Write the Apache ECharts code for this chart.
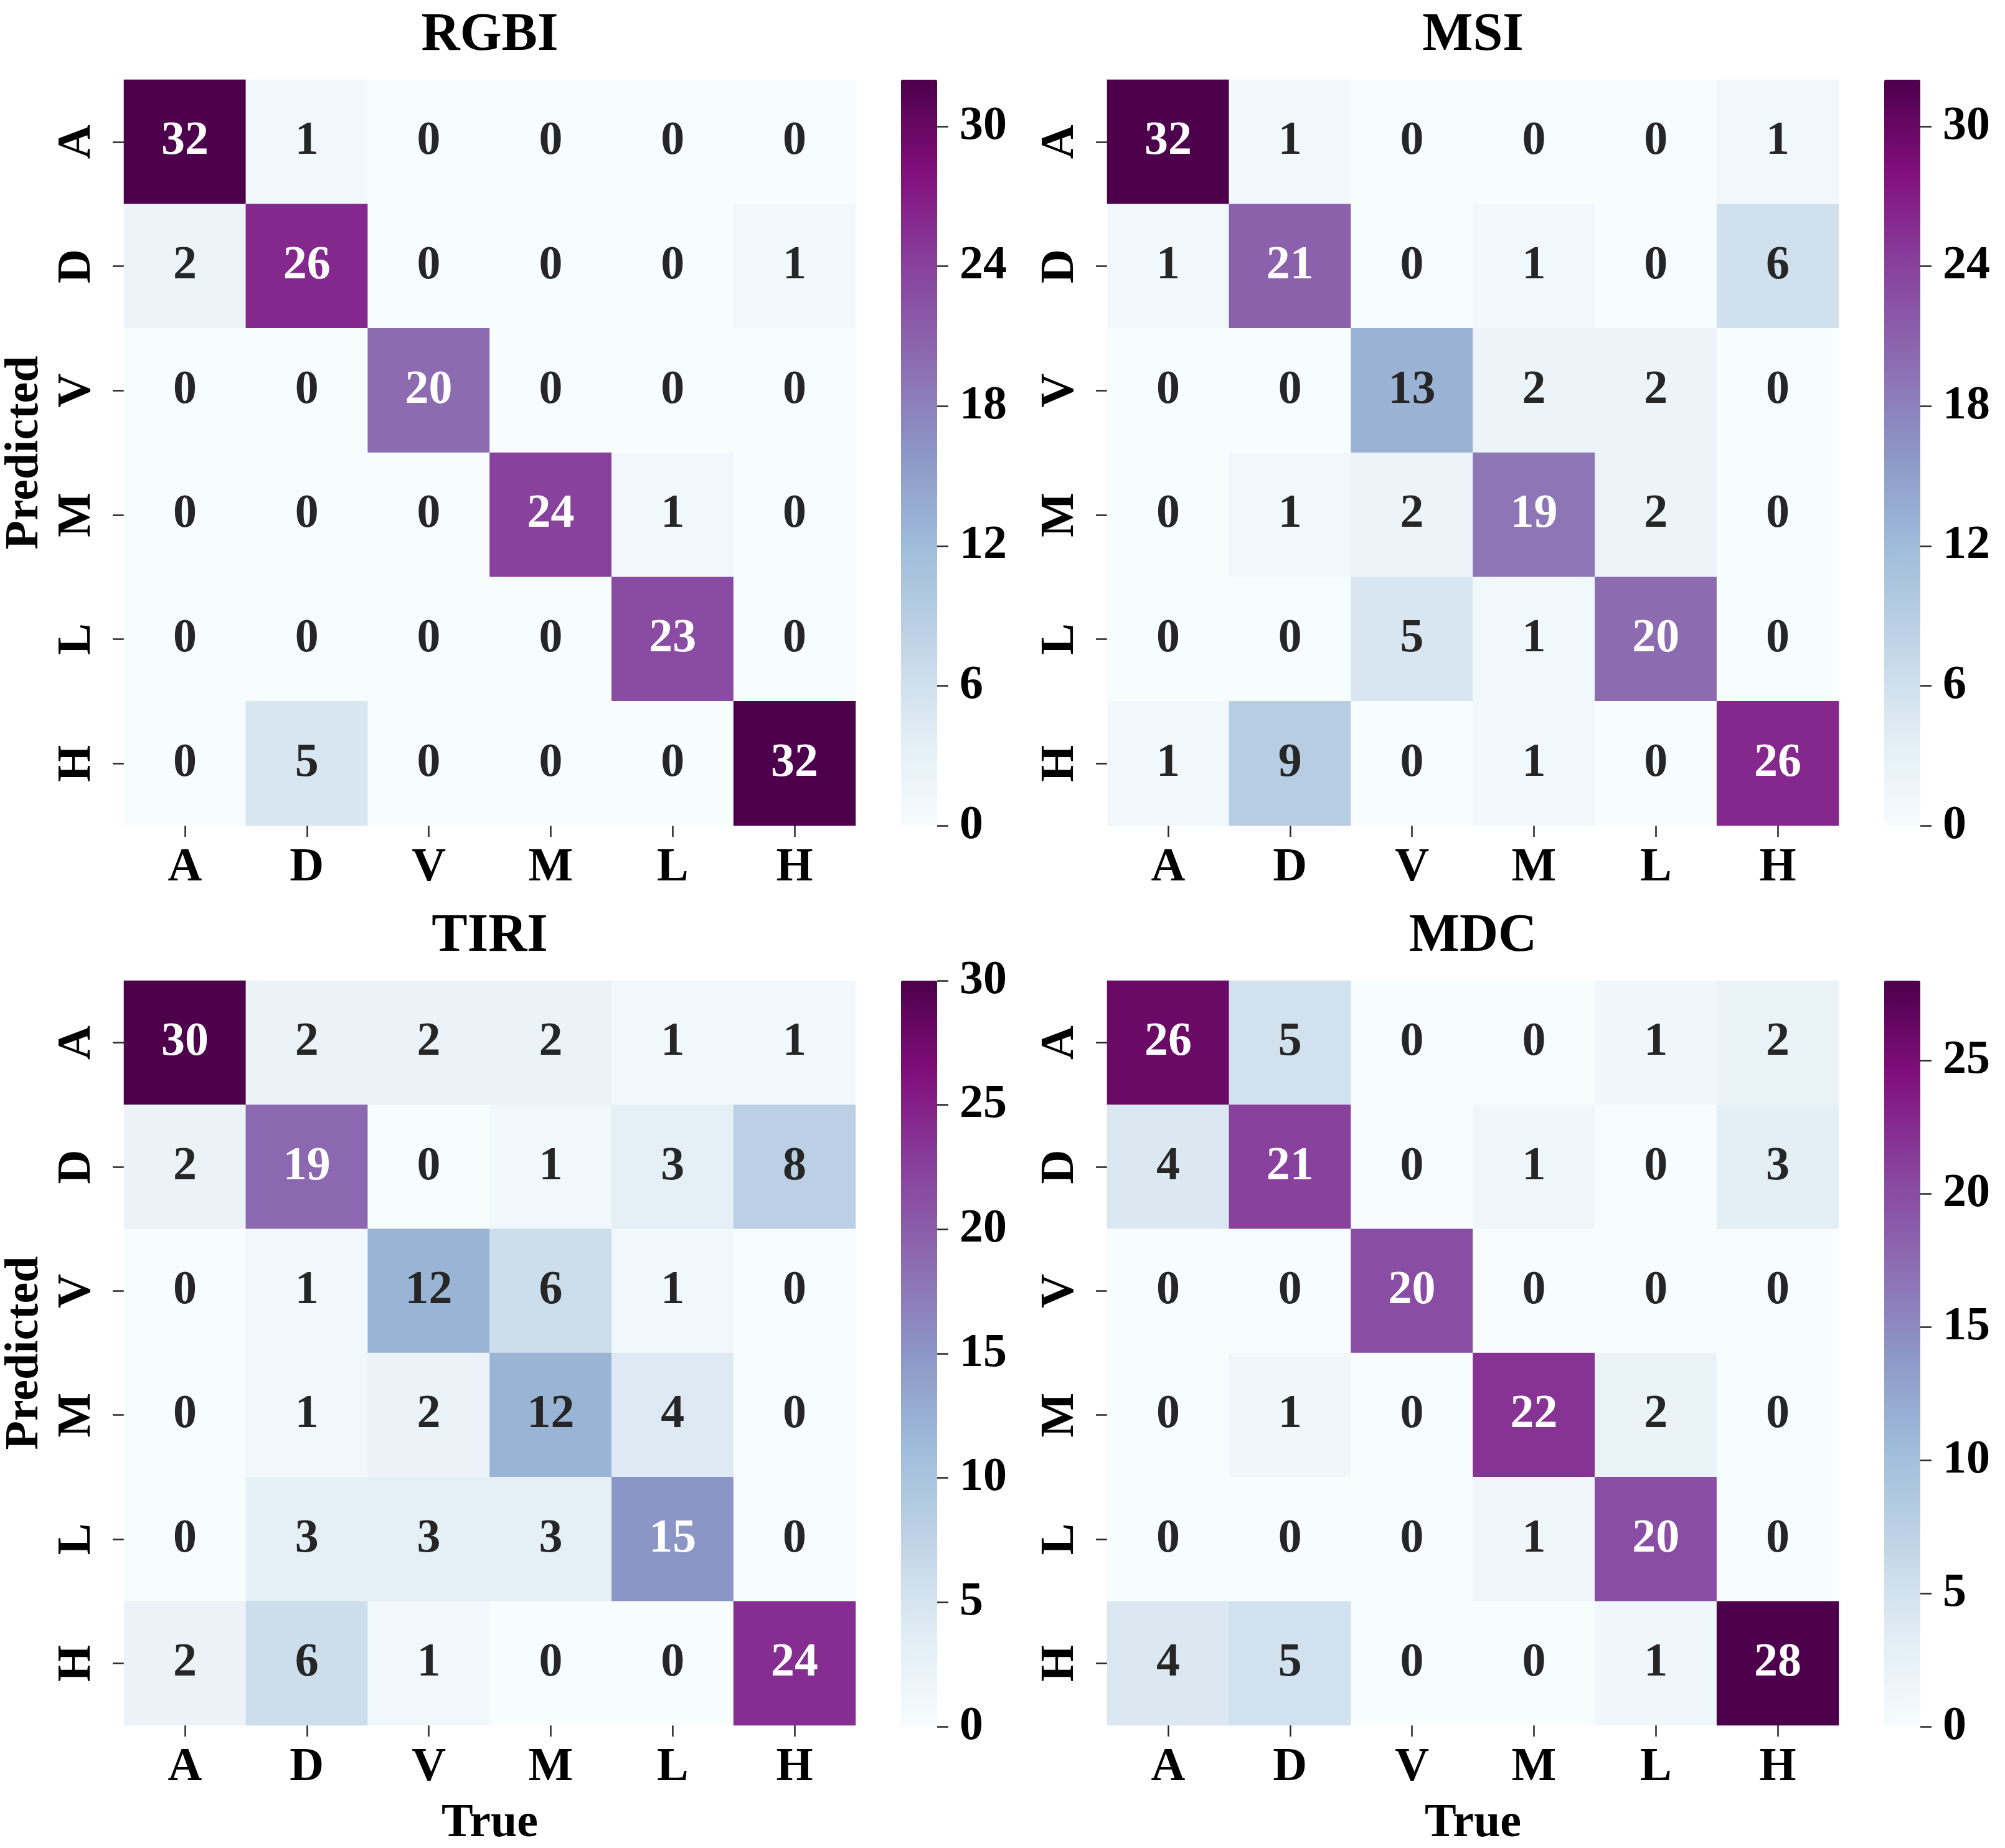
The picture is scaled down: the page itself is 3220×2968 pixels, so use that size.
<!DOCTYPE html>
<html>
<head>
<meta charset="utf-8">
<script src="https://cdn.jsdelivr.net/npm/echarts@6/dist/echarts.min.js"></script>
<style>
html, body { margin: 0; padding: 0; background: #fff; }
#chart { width: 3220px; height: 2968px; }
</style>
</head>
<body>
<div id="chart"></div>
<script>
// categories (rows = Predicted, cols = True)
var classes = ['A', 'D', 'V', 'M', 'L', 'H'];
var titles = ['RGBI', 'MSI', 'TIRI', 'MDC'];

var rgbi = [
	[32, 1, 0, 0, 0, 0],
	[2, 26, 0, 0, 0, 1],
	[0, 0, 20, 0, 0, 0],
	[0, 0, 0, 24, 1, 0],
	[0, 0, 0, 0, 23, 0],
	[0, 5, 0, 0, 0, 32]
];
var msi = [
	[32, 1, 0, 0, 0, 1],
	[1, 21, 0, 1, 0, 6],
	[0, 0, 13, 2, 2, 0],
	[0, 1, 2, 19, 2, 0],
	[0, 0, 5, 1, 20, 0],
	[1, 9, 0, 1, 0, 26]
];
var tiri = [
	[30, 2, 2, 2, 1, 1],
	[2, 19, 0, 1, 3, 8],
	[0, 1, 12, 6, 1, 0],
	[0, 1, 2, 12, 4, 0],
	[0, 3, 3, 3, 15, 0],
	[2, 6, 1, 0, 0, 24]
];
var mdc = [
	[26, 5, 0, 0, 1, 2],
	[4, 21, 0, 1, 0, 3],
	[0, 0, 20, 0, 0, 0],
	[0, 1, 0, 22, 2, 0],
	[0, 0, 0, 1, 20, 0],
	[4, 5, 0, 0, 1, 28]
];

// colorbar tick labels
var rgbiTicks = [0, 6, 12, 18, 24, 30];
var msiTicks = [0, 6, 12, 18, 24, 30];
var tiriTicks = [0, 5, 10, 15, 20, 25, 30];
var mdcTicks = [0, 5, 10, 15, 20, 25];

var matrices = [rgbi, msi, tiri, mdc];
var cbTicks = [rgbiTicks, msiTicks, tiriTicks, mdcTicks];

// BuPu
var bupu = ['#f7fcfd', '#e0ecf4', '#bfd3e6', '#9ebcda', '#8c96c6', '#8c6bb1', '#88419d', '#810f7c', '#4d004b'];

var FONT = "'Liberation Serif', 'Times New Roman', serif";

// layout
var gLeft = [199, 1778, 199, 1778];
var gTop = [128, 128, 1575, 1575];
var gW = 1175, gH = 1198;
var cbOffset = 73, cbW = 58;

function hexRgb(h) {
	return [parseInt(h.substr(1, 2), 16) / 255, parseInt(h.substr(3, 2), 16) / 255, parseInt(h.substr(5, 2), 16) / 255];
}
// seaborn style: dark text on light cells, white on dark cells
function textColor(v, vmax) {
	var t = v / vmax * (bupu.length - 1);
	var i = Math.min(Math.floor(t), bupu.length - 2);
	var f = t - i;
	var a = hexRgb(bupu[i]), b = hexRgb(bupu[i + 1]);
	var lin = [];
	for (var k = 0; k < 3; k++) {
		var c = a[k] + (b[k] - a[k]) * f;
		lin.push(c <= 0.03928 ? c / 12.92 : Math.pow((c + 0.055) / 1.055, 2.4));
	}
	var l = 0.2126 * lin[0] + 0.7152 * lin[1] + 0.0722 * lin[2];
	return l > 0.408 ? '#262626' : '#ffffff';
}

var tickStyle = { color: '#262626', width: 2.5 };
var hiddenLine = { show: true, onZero: false, lineStyle: { color: 'rgba(0,0,0,0)' } };
var grids = [], xAxes = [], yAxes = [], series = [], visualMaps = [], titleList = [];
var cbGrids = [], cbX = [], cbY = [];

for (var p = 0; p < 4; p++) {
	var m = matrices[p];
	var vmax = 0;
	m.forEach(function (row) { row.forEach(function (v) { if (v > vmax) vmax = v; }); });

	var data = [];
	for (var i = 0; i < 6; i++) {
		for (var j = 0; j < 6; j++) {
			data.push({
				value: [j, i, m[i][j]],
				label: { color: textColor(m[i][j], vmax) }
			});
		}
	}

	grids.push({ left: gLeft[p], top: gTop[p], width: gW, height: gH });

	titleList.push({
		text: titles[p],
		left: gLeft[p] + gW / 2,
		top: gTop[p] - 113,
		textAlign: 'center',
		padding: 0,
		textStyle: { fontFamily: FONT, fontWeight: 'bold', fontSize: 86, color: '#000' }
	});

	xAxes.push({
		gridIndex: p,
		type: 'category',
		data: classes,
		position: 'bottom',
		name: p >= 2 ? 'True' : '',
		nameLocation: 'middle',
		nameGap: 120,
		nameTextStyle: { fontFamily: FONT, fontWeight: 'bold', fontSize: 76, color: '#000' },
		axisLine: hiddenLine,
		axisTick: { show: true, alignWithLabel: true, length: 18, lineStyle: tickStyle },
		axisLabel: { margin: 30, fontFamily: FONT, fontWeight: 'bold', fontSize: 76, color: '#000' },
		splitLine: { show: false }
	});

	yAxes.push({
		gridIndex: p,
		type: 'category',
		data: classes,
		inverse: true,
		name: (p % 2 === 0) ? 'Predicted' : '',
		nameLocation: 'middle',
		nameRotate: 90,
		nameGap: 121,
		nameTextStyle: { fontFamily: FONT, fontWeight: 'bold', fontSize: 76, color: '#000' },
		axisLine: hiddenLine,
		axisTick: { show: true, alignWithLabel: true, length: 18, lineStyle: tickStyle },
		axisLabel: { rotate: 90, margin: 37, fontFamily: FONT, fontWeight: 'bold', fontSize: 76, color: '#000' },
		splitLine: { show: false }
	});

	series.push({
		type: 'heatmap',
		xAxisIndex: p,
		yAxisIndex: p,
		data: data,
		itemStyle: { borderWidth: 0 },
		label: {
			show: true,
			fontFamily: FONT,
			fontWeight: 'bold',
			fontSize: 76,
			formatter: function (params) { return params.value[2]; }
		},
		emphasis: { disabled: true }
	});

	visualMaps.push({
		type: 'continuous',
		seriesIndex: p,
		dimension: 2,
		min: 0,
		max: vmax,
		calculable: false,
		hoverLink: false,
		orient: 'vertical',
		left: gLeft[p] + gW + cbOffset,
		top: gTop[p],
		itemWidth: cbW,
		itemHeight: gH,
		padding: 0,
		inRange: { color: bupu }
	});

	// colorbar axis (grid 4..7): spans 0 .. last tick so no extra tick at vmax
	var ticks = cbTicks[p];
	var last = ticks[ticks.length - 1];
	var axH = gH * last / vmax;
	cbGrids.push({ left: gLeft[p] + gW + cbOffset, top: gTop[p] + gH - axH, width: cbW, height: axH });
	cbX.push({ gridIndex: 4 + p, type: 'value', show: false, axisLine: { onZero: false } });
	cbY.push({
		gridIndex: 4 + p,
		type: 'value',
		position: 'right',
		min: 0,
		max: last,
		interval: ticks[1] - ticks[0],
		axisLine: hiddenLine,
		splitLine: { show: false },
		axisTick: { show: true, length: 18, lineStyle: tickStyle },
		axisLabel: { margin: 36, fontFamily: FONT, fontWeight: 'bold', fontSize: 76, color: '#000' }
	});
}

var chart = echarts.init(document.getElementById('chart'));
chart.setOption({
	animation: false,
	backgroundColor: '#ffffff',
	title: titleList,
	grid: grids.concat(cbGrids),
	xAxis: xAxes.concat(cbX),
	yAxis: yAxes.concat(cbY),
	visualMap: visualMaps,
	series: series
});
</script>
</body>
</html>
